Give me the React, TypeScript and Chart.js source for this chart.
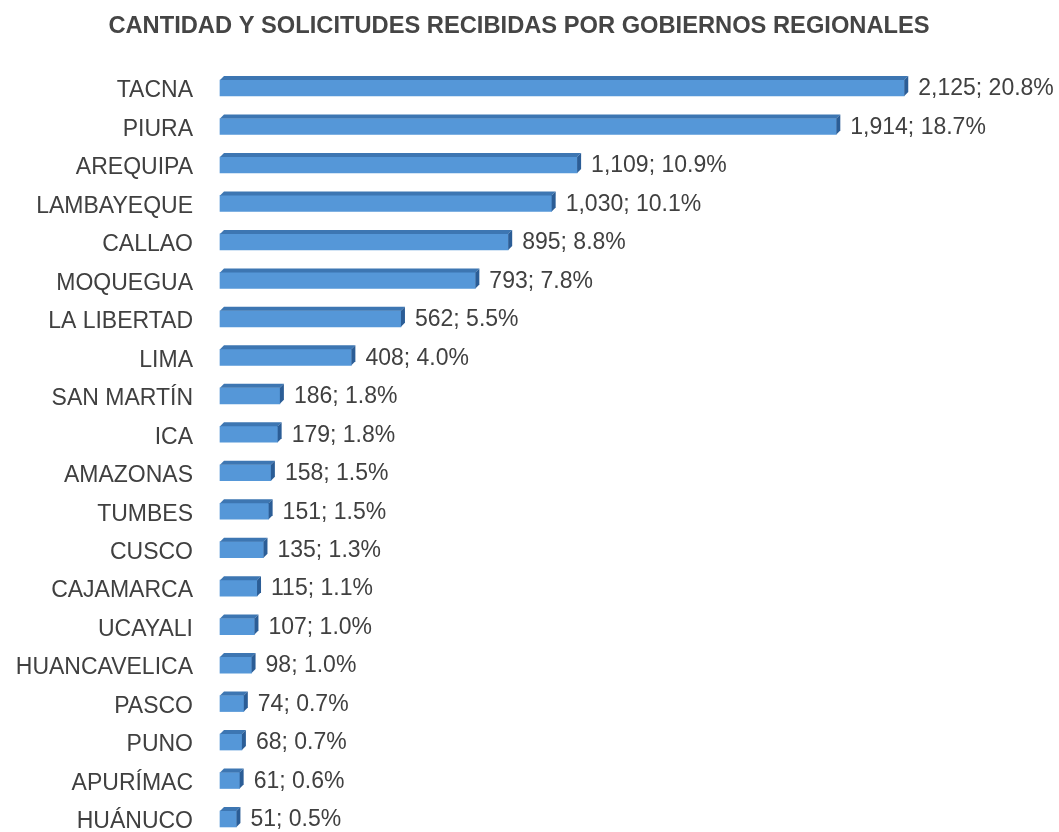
import React, { useEffect, useRef } from "react";
import { Chart, registerables } from "chart.js";

Chart.register(...registerables);

const TITLE = "CANTIDAD Y SOLICITUDES RECIBIDAS POR GOBIERNOS REGIONALES";

const regions: string[] = [
  "TACNA", "PIURA", "AREQUIPA", "LAMBAYEQUE", "CALLAO", "MOQUEGUA", "LA LIBERTAD",
  "LIMA", "SAN MARTÍN", "ICA", "AMAZONAS", "TUMBES", "CUSCO", "CAJAMARCA",
  "UCAYALI", "HUANCAVELICA", "PASCO", "PUNO", "APURÍMAC", "HUÁNUCO",
];

const requests: number[] = [
  2125, 1914, 1109, 1030, 895, 793, 562, 408, 186, 179, 158, 151, 135, 115, 107, 98, 74, 68, 61, 51,
];

const shares: string[] = [
  "20.8%", "18.7%", "10.9%", "10.1%", "8.8%", "7.8%", "5.5%", "4.0%", "1.8%", "1.8%",
  "1.5%", "1.5%", "1.3%", "1.1%", "1.0%", "1.0%", "0.7%", "0.7%", "0.6%", "0.5%",
];

const FONT = "'Liberation Sans', Arial, sans-serif";
const DEPTH = 4;
const CANVAS_H = 850;

const bar3d = {
  id: "bar3d",
  afterDatasetsDraw(chart: any) {
    const ctx = chart.ctx;
    const meta = chart.getDatasetMeta(0);
    ctx.save();
    meta.data.forEach((bar: any, i: number) => {
      const { x, y, base, height } = bar.getProps(["x", "y", "base", "height"], true);
      const left = Math.min(base, x);
      const right = Math.max(base, x);
      const top = y - height / 2;
      const bottom = y + height / 2;
      // top face
      ctx.fillStyle = "#3d76b2";
      ctx.beginPath();
      ctx.moveTo(left, top);
      ctx.lineTo(left + DEPTH, top - DEPTH);
      ctx.lineTo(right + DEPTH, top - DEPTH);
      ctx.lineTo(right, top);
      ctx.closePath();
      ctx.fill();
      // right face
      ctx.fillStyle = "#2b5d96";
      ctx.beginPath();
      ctx.moveTo(right, top);
      ctx.lineTo(right + DEPTH, top - DEPTH);
      ctx.lineTo(right + DEPTH, bottom - DEPTH);
      ctx.lineTo(right, bottom);
      ctx.closePath();
      ctx.fill();
      // value label
      ctx.fillStyle = "#404040";
      ctx.font = `23px ${FONT}`;
      ctx.textAlign = "left";
      ctx.textBaseline = "middle";
      const txt = `${requests[i].toLocaleString("en-US")}; ${shares[i]}`;
      ctx.fillText(txt, right + DEPTH + 10, y + 1);
    });
    // title
    ctx.fillStyle = "#454545";
    ctx.font = `bold 23.7px ${FONT}`;
    ctx.textAlign = "center";
    ctx.textBaseline = "middle";
    ctx.fillText(TITLE, 519, 26);
    ctx.restore();
  },
};

export default function App() {
  const ref = useRef<HTMLCanvasElement | null>(null);

  useEffect(() => {
    if (!ref.current) return;
    const chart = new Chart(ref.current, {
      type: "bar",
      data: {
        labels: regions,
        datasets: [
          {
            data: requests,
            backgroundColor: "#5597d8",
            borderWidth: 0,
            barThickness: 16,
            clip: false as any,
          },
        ],
      },
      options: {
        indexAxis: "y",
        animation: false,
        responsive: false,
        layout: { padding: { left: 0, right: 34, top: 68.8, bottom: CANVAS_H - 838.2 } },
        plugins: {
          legend: { display: false },
          title: { display: false },
          tooltip: { enabled: false },
        },
        scales: {
          x: {
            display: false,
            min: 0,
            max: 2500,
          },
          y: {
            offset: true,
            grid: { display: false, drawTicks: false },
            border: { display: false },
            ticks: {
              padding: 27,
              labelOffset: 3,
              color: "#404040",
              font: { family: FONT, size: 23 },
              autoSkip: false,
            },
            afterFit(scale: any) {
              scale.width = 220;
              scale.paddingTop = 0;
              scale.paddingBottom = 0;
            },
          },
        },
      },
      plugins: [bar3d],
    });
    return () => chart.destroy();
  }, []);

  return (
    <div style={{ position: "fixed", left: 0, top: 0, width: 1059, height: CANVAS_H, background: "#fff" }}>
      <canvas ref={ref} width={1059} height={CANVAS_H} />
    </div>
  );
}
